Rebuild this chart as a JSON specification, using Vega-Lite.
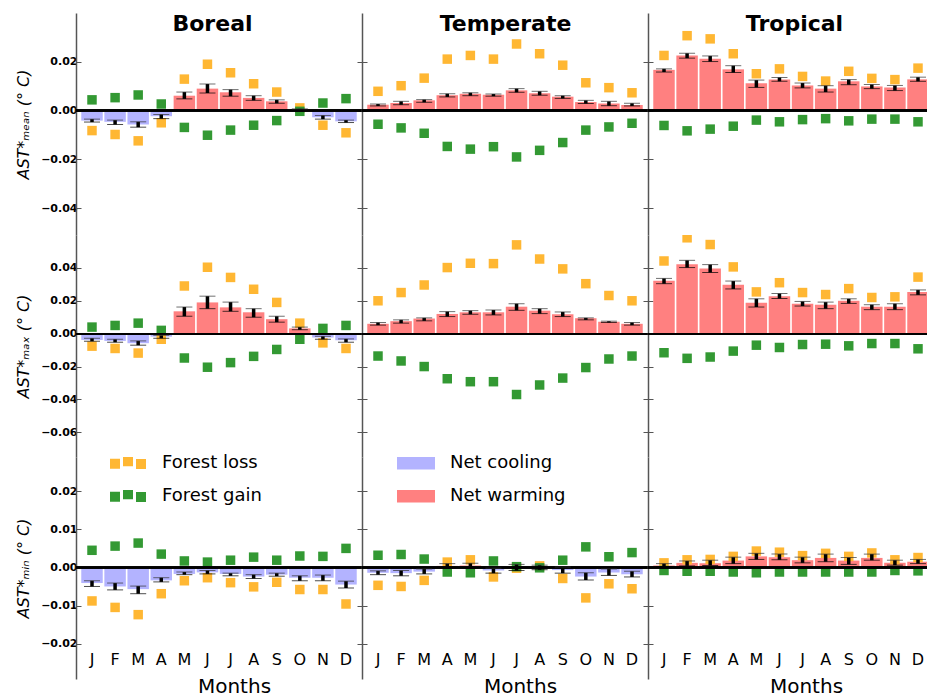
{
"$schema":"https://vega.github.io/schema/vega-lite/v6.json",
"padding":{"left":15,"top":12,"right":0,"bottom":0},
"config":{"view":{"stroke":null},"font":"DejaVu Sans",
 "axis":{"grid":false,"domainColor":"#555","domainWidth":1.5,"tickColor":"#555","tickSize":-5,"tickWidth":1,"labelColor":"black","titleColor":"black","labelFont":"DejaVu Sans"},
 "legend":{"labelFont":"DejaVu Sans","labelColor":"black"}},
"datasets":{"d":[
{"v":"mean","r":"Boreal","m":1,"net":-0.0041,"lo":-0.0047,"hi":-0.0035,"loss":-0.0082,"gain":0.0044,"e":"Net cooling"},
{"v":"mean","r":"Boreal","m":2,"net":-0.0046,"lo":-0.0057,"hi":-0.0039,"loss":-0.0098,"gain":0.0053,"e":"Net cooling"},
{"v":"mean","r":"Boreal","m":3,"net":-0.0057,"lo":-0.0068,"hi":-0.0046,"loss":-0.0124,"gain":0.0064,"e":"Net cooling"},
{"v":"mean","r":"Boreal","m":4,"net":-0.0023,"lo":-0.0033,"hi":-0.0016,"loss":-0.0050,"gain":0.0027,"e":"Net cooling"},
{"v":"mean","r":"Boreal","m":5,"net":0.0061,"lo":0.0048,"hi":0.0076,"loss":0.0129,"gain":-0.0069,"e":"Net warming"},
{"v":"mean","r":"Boreal","m":6,"net":0.0090,"lo":0.0072,"hi":0.0109,"loss":0.0190,"gain":-0.0101,"e":"Net warming"},
{"v":"mean","r":"Boreal","m":7,"net":0.0075,"lo":0.0059,"hi":0.0086,"loss":0.0155,"gain":-0.0080,"e":"Net warming"},
{"v":"mean","r":"Boreal","m":8,"net":0.0052,"lo":0.0042,"hi":0.0061,"loss":0.0110,"gain":-0.0060,"e":"Net warming"},
{"v":"mean","r":"Boreal","m":9,"net":0.0038,"lo":0.0030,"hi":0.0044,"loss":0.0076,"gain":-0.0041,"e":"Net warming"},
{"v":"mean","r":"Boreal","m":10,"net":0.0004,"lo":0.0000,"hi":0.0007,"loss":0.0011,"gain":-0.0003,"e":"Net warming"},
{"v":"mean","r":"Boreal","m":11,"net":-0.0027,"lo":-0.0035,"hi":-0.0020,"loss":-0.0060,"gain":0.0031,"e":"Net cooling"},
{"v":"mean","r":"Boreal","m":12,"net":-0.0044,"lo":-0.0049,"hi":-0.0039,"loss":-0.0091,"gain":0.0049,"e":"Net cooling"},
{"v":"mean","r":"Temperate","m":1,"net":0.0024,"lo":0.0019,"hi":0.0027,"loss":0.0079,"gain":-0.0056,"e":"Net warming"},
{"v":"mean","r":"Temperate","m":2,"net":0.0031,"lo":0.0024,"hi":0.0038,"loss":0.0102,"gain":-0.0071,"e":"Net warming"},
{"v":"mean","r":"Temperate","m":3,"net":0.0042,"lo":0.0034,"hi":0.0045,"loss":0.0133,"gain":-0.0093,"e":"Net warming"},
{"v":"mean","r":"Temperate","m":4,"net":0.0063,"lo":0.0056,"hi":0.0069,"loss":0.0211,"gain":-0.0147,"e":"Net warming"},
{"v":"mean","r":"Temperate","m":5,"net":0.0069,"lo":0.0061,"hi":0.0073,"loss":0.0226,"gain":-0.0158,"e":"Net warming"},
{"v":"mean","r":"Temperate","m":6,"net":0.0065,"lo":0.0059,"hi":0.0068,"loss":0.0211,"gain":-0.0148,"e":"Net warming"},
{"v":"mean","r":"Temperate","m":7,"net":0.0083,"lo":0.0075,"hi":0.0090,"loss":0.0273,"gain":-0.0190,"e":"Net warming"},
{"v":"mean","r":"Temperate","m":8,"net":0.0071,"lo":0.0063,"hi":0.0079,"loss":0.0233,"gain":-0.0163,"e":"Net warming"},
{"v":"mean","r":"Temperate","m":9,"net":0.0057,"lo":0.0050,"hi":0.0061,"loss":0.0186,"gain":-0.0131,"e":"Net warming"},
{"v":"mean","r":"Temperate","m":10,"net":0.0035,"lo":0.0029,"hi":0.0042,"loss":0.0114,"gain":-0.0080,"e":"Net warming"},
{"v":"mean","r":"Temperate","m":11,"net":0.0029,"lo":0.0020,"hi":0.0038,"loss":0.0094,"gain":-0.0067,"e":"Net warming"},
{"v":"mean","r":"Temperate","m":12,"net":0.0023,"lo":0.0019,"hi":0.0030,"loss":0.0073,"gain":-0.0052,"e":"Net warming"},
{"v":"mean","r":"Tropical","m":1,"net":0.0167,"lo":0.0158,"hi":0.0171,"loss":0.0226,"gain":-0.0061,"e":"Net warming"},
{"v":"mean","r":"Tropical","m":2,"net":0.0226,"lo":0.0215,"hi":0.0235,"loss":0.0307,"gain":-0.0083,"e":"Net warming"},
{"v":"mean","r":"Tropical","m":3,"net":0.0212,"lo":0.0201,"hi":0.0224,"loss":0.0294,"gain":-0.0076,"e":"Net warming"},
{"v":"mean","r":"Tropical","m":4,"net":0.0169,"lo":0.0156,"hi":0.0184,"loss":0.0233,"gain":-0.0064,"e":"Net warming"},
{"v":"mean","r":"Tropical","m":5,"net":0.0112,"lo":0.0095,"hi":0.0125,"loss":0.0151,"gain":-0.0039,"e":"Net warming"},
{"v":"mean","r":"Tropical","m":6,"net":0.0127,"lo":0.0120,"hi":0.0136,"loss":0.0171,"gain":-0.0046,"e":"Net warming"},
{"v":"mean","r":"Tropical","m":7,"net":0.0103,"lo":0.0093,"hi":0.0113,"loss":0.0140,"gain":-0.0037,"e":"Net warming"},
{"v":"mean","r":"Tropical","m":8,"net":0.0090,"lo":0.0076,"hi":0.0102,"loss":0.0121,"gain":-0.0033,"e":"Net warming"},
{"v":"mean","r":"Tropical","m":9,"net":0.0120,"lo":0.0106,"hi":0.0127,"loss":0.0161,"gain":-0.0042,"e":"Net warming"},
{"v":"mean","r":"Tropical","m":10,"net":0.0099,"lo":0.0090,"hi":0.0107,"loss":0.0132,"gain":-0.0035,"e":"Net warming"},
{"v":"mean","r":"Tropical","m":11,"net":0.0095,"lo":0.0082,"hi":0.0103,"loss":0.0127,"gain":-0.0035,"e":"Net warming"},
{"v":"mean","r":"Tropical","m":12,"net":0.0128,"lo":0.0120,"hi":0.0137,"loss":0.0174,"gain":-0.0046,"e":"Net warming"},
{"v":"max","r":"Boreal","m":1,"net":-0.0038,"lo":-0.0046,"hi":-0.0028,"loss":-0.0076,"gain":0.0040,"e":"Net cooling"},
{"v":"max","r":"Boreal","m":2,"net":-0.0044,"lo":-0.0052,"hi":-0.0034,"loss":-0.0090,"gain":0.0050,"e":"Net cooling"},
{"v":"max","r":"Boreal","m":3,"net":-0.0058,"lo":-0.0070,"hi":-0.0044,"loss":-0.0118,"gain":0.0064,"e":"Net cooling"},
{"v":"max","r":"Boreal","m":4,"net":-0.0018,"lo":-0.0028,"hi":-0.0010,"loss":-0.0034,"gain":0.0020,"e":"Net cooling"},
{"v":"max","r":"Boreal","m":5,"net":0.0136,"lo":0.0106,"hi":0.0162,"loss":0.0290,"gain":-0.0148,"e":"Net warming"},
{"v":"max","r":"Boreal","m":6,"net":0.0190,"lo":0.0152,"hi":0.0228,"loss":0.0404,"gain":-0.0204,"e":"Net warming"},
{"v":"max","r":"Boreal","m":7,"net":0.0160,"lo":0.0136,"hi":0.0192,"loss":0.0342,"gain":-0.0176,"e":"Net warming"},
{"v":"max","r":"Boreal","m":8,"net":0.0130,"lo":0.0100,"hi":0.0152,"loss":0.0270,"gain":-0.0138,"e":"Net warming"},
{"v":"max","r":"Boreal","m":9,"net":0.0088,"lo":0.0070,"hi":0.0106,"loss":0.0190,"gain":-0.0096,"e":"Net warming"},
{"v":"max","r":"Boreal","m":10,"net":0.0032,"lo":0.0024,"hi":0.0040,"loss":0.0064,"gain":-0.0034,"e":"Net warming"},
{"v":"max","r":"Boreal","m":11,"net":-0.0024,"lo":-0.0034,"hi":-0.0016,"loss":-0.0056,"gain":0.0032,"e":"Net cooling"},
{"v":"max","r":"Boreal","m":12,"net":-0.0040,"lo":-0.0052,"hi":-0.0032,"loss":-0.0090,"gain":0.0050,"e":"Net cooling"},
{"v":"max","r":"Temperate","m":1,"net":0.0060,"lo":0.0052,"hi":0.0068,"loss":0.0200,"gain":-0.0136,"e":"Net warming"},
{"v":"max","r":"Temperate","m":2,"net":0.0076,"lo":0.0064,"hi":0.0084,"loss":0.0250,"gain":-0.0166,"e":"Net warming"},
{"v":"max","r":"Temperate","m":3,"net":0.0092,"lo":0.0078,"hi":0.0096,"loss":0.0296,"gain":-0.0200,"e":"Net warming"},
{"v":"max","r":"Temperate","m":4,"net":0.0120,"lo":0.0104,"hi":0.0134,"loss":0.0402,"gain":-0.0274,"e":"Net warming"},
{"v":"max","r":"Temperate","m":5,"net":0.0130,"lo":0.0118,"hi":0.0140,"loss":0.0428,"gain":-0.0292,"e":"Net warming"},
{"v":"max","r":"Temperate","m":6,"net":0.0130,"lo":0.0114,"hi":0.0144,"loss":0.0426,"gain":-0.0292,"e":"Net warming"},
{"v":"max","r":"Temperate","m":7,"net":0.0164,"lo":0.0142,"hi":0.0182,"loss":0.0540,"gain":-0.0370,"e":"Net warming"},
{"v":"max","r":"Temperate","m":8,"net":0.0140,"lo":0.0122,"hi":0.0152,"loss":0.0454,"gain":-0.0312,"e":"Net warming"},
{"v":"max","r":"Temperate","m":9,"net":0.0118,"lo":0.0104,"hi":0.0132,"loss":0.0394,"gain":-0.0270,"e":"Net warming"},
{"v":"max","r":"Temperate","m":10,"net":0.0094,"lo":0.0084,"hi":0.0096,"loss":0.0304,"gain":-0.0206,"e":"Net warming"},
{"v":"max","r":"Temperate","m":11,"net":0.0072,"lo":0.0068,"hi":0.0076,"loss":0.0232,"gain":-0.0154,"e":"Net warming"},
{"v":"max","r":"Temperate","m":12,"net":0.0060,"lo":0.0052,"hi":0.0068,"loss":0.0200,"gain":-0.0136,"e":"Net warming"},
{"v":"max","r":"Tropical","m":1,"net":0.0322,"lo":0.0304,"hi":0.0336,"loss":0.0442,"gain":-0.0116,"e":"Net warming"},
{"v":"max","r":"Tropical","m":2,"net":0.0422,"lo":0.0402,"hi":0.0446,"loss":0.0583,"gain":-0.0150,"e":"Net warming"},
{"v":"max","r":"Tropical","m":3,"net":0.0396,"lo":0.0372,"hi":0.0420,"loss":0.0542,"gain":-0.0142,"e":"Net warming"},
{"v":"max","r":"Tropical","m":4,"net":0.0298,"lo":0.0272,"hi":0.0320,"loss":0.0406,"gain":-0.0106,"e":"Net warming"},
{"v":"max","r":"Tropical","m":5,"net":0.0188,"lo":0.0162,"hi":0.0212,"loss":0.0254,"gain":-0.0070,"e":"Net warming"},
{"v":"max","r":"Tropical","m":6,"net":0.0228,"lo":0.0214,"hi":0.0244,"loss":0.0310,"gain":-0.0084,"e":"Net warming"},
{"v":"max","r":"Tropical","m":7,"net":0.0182,"lo":0.0168,"hi":0.0196,"loss":0.0250,"gain":-0.0066,"e":"Net warming"},
{"v":"max","r":"Tropical","m":8,"net":0.0176,"lo":0.0152,"hi":0.0192,"loss":0.0238,"gain":-0.0064,"e":"Net warming"},
{"v":"max","r":"Tropical","m":9,"net":0.0200,"lo":0.0184,"hi":0.0212,"loss":0.0274,"gain":-0.0074,"e":"Net warming"},
{"v":"max","r":"Tropical","m":10,"net":0.0164,"lo":0.0146,"hi":0.0176,"loss":0.0220,"gain":-0.0060,"e":"Net warming"},
{"v":"max","r":"Tropical","m":11,"net":0.0164,"lo":0.0146,"hi":0.0182,"loss":0.0224,"gain":-0.0060,"e":"Net warming"},
{"v":"max","r":"Tropical","m":12,"net":0.0254,"lo":0.0236,"hi":0.0266,"loss":0.0344,"gain":-0.0092,"e":"Net warming"},
{"v":"min","r":"Boreal","m":1,"net":-0.0041,"lo":-0.0050,"hi":-0.0035,"loss":-0.0088,"gain":0.0045,"e":"Net cooling"},
{"v":"min","r":"Boreal","m":2,"net":-0.0050,"lo":-0.0059,"hi":-0.0041,"loss":-0.0105,"gain":0.0056,"e":"Net cooling"},
{"v":"min","r":"Boreal","m":3,"net":-0.0057,"lo":-0.0069,"hi":-0.0049,"loss":-0.0124,"gain":0.0064,"e":"Net cooling"},
{"v":"min","r":"Boreal","m":4,"net":-0.0034,"lo":-0.0038,"hi":-0.0027,"loss":-0.0069,"gain":0.0035,"e":"Net cooling"},
{"v":"min","r":"Boreal","m":5,"net":-0.0017,"lo":-0.0019,"hi":-0.0012,"loss":-0.0035,"gain":0.0017,"e":"Net cooling"},
{"v":"min","r":"Boreal","m":6,"net":-0.0013,"lo":-0.0017,"hi":-0.0008,"loss":-0.0027,"gain":0.0014,"e":"Net cooling"},
{"v":"min","r":"Boreal","m":7,"net":-0.0017,"lo":-0.0022,"hi":-0.0015,"loss":-0.0040,"gain":0.0019,"e":"Net cooling"},
{"v":"min","r":"Boreal","m":8,"net":-0.0024,"lo":-0.0029,"hi":-0.0019,"loss":-0.0051,"gain":0.0027,"e":"Net cooling"},
{"v":"min","r":"Boreal","m":9,"net":-0.0019,"lo":-0.0023,"hi":-0.0015,"loss":-0.0039,"gain":0.0019,"e":"Net cooling"},
{"v":"min","r":"Boreal","m":10,"net":-0.0027,"lo":-0.0035,"hi":-0.0022,"loss":-0.0058,"gain":0.0030,"e":"Net cooling"},
{"v":"min","r":"Boreal","m":11,"net":-0.0027,"lo":-0.0035,"hi":-0.0020,"loss":-0.0058,"gain":0.0029,"e":"Net cooling"},
{"v":"min","r":"Boreal","m":12,"net":-0.0045,"lo":-0.0054,"hi":-0.0036,"loss":-0.0096,"gain":0.0050,"e":"Net cooling"},
{"v":"min","r":"Temperate","m":1,"net":-0.0014,"lo":-0.0019,"hi":-0.0009,"loss":-0.0047,"gain":0.0032,"e":"Net cooling"},
{"v":"min","r":"Temperate","m":2,"net":-0.0015,"lo":-0.0022,"hi":-0.0008,"loss":-0.0050,"gain":0.0034,"e":"Net cooling"},
{"v":"min","r":"Temperate","m":3,"net":-0.0011,"lo":-0.0017,"hi":-0.0004,"loss":-0.0034,"gain":0.0022,"e":"Net cooling"},
{"v":"min","r":"Temperate","m":4,"net":0.0004,"lo":-0.0001,"hi":0.0010,"loss":0.0014,"gain":-0.0012,"e":"Net warming"},
{"v":"min","r":"Temperate","m":5,"net":0.0005,"lo":-0.0002,"hi":0.0011,"loss":0.0020,"gain":-0.0014,"e":"Net warming"},
{"v":"min","r":"Temperate","m":6,"net":-0.0008,"lo":-0.0015,"hi":-0.0002,"loss":-0.0025,"gain":0.0017,"e":"Net cooling"},
{"v":"min","r":"Temperate","m":7,"net":0.0001,"lo":-0.0008,"hi":0.0008,"loss":-0.0002,"gain":0.0002,"e":"Net warming"},
{"v":"min","r":"Temperate","m":8,"net":0.0001,"lo":-0.0006,"hi":0.0006,"loss":0.0004,"gain":-0.0001,"e":"Net warming"},
{"v":"min","r":"Temperate","m":9,"net":-0.0007,"lo":-0.0015,"hi":0.0001,"loss":-0.0029,"gain":0.0019,"e":"Net cooling"},
{"v":"min","r":"Temperate","m":10,"net":-0.0024,"lo":-0.0033,"hi":-0.0014,"loss":-0.0080,"gain":0.0054,"e":"Net cooling"},
{"v":"min","r":"Temperate","m":11,"net":-0.0013,"lo":-0.0021,"hi":-0.0004,"loss":-0.0043,"gain":0.0028,"e":"Net cooling"},
{"v":"min","r":"Temperate","m":12,"net":-0.0018,"lo":-0.0025,"hi":-0.0010,"loss":-0.0056,"gain":0.0039,"e":"Net cooling"},
{"v":"min","r":"Tropical","m":1,"net":0.0005,"lo":0.0002,"hi":0.0010,"loss":0.0012,"gain":-0.0008,"e":"Net warming"},
{"v":"min","r":"Tropical","m":2,"net":0.0012,"lo":0.0004,"hi":0.0017,"loss":0.0020,"gain":-0.0010,"e":"Net warming"},
{"v":"min","r":"Tropical","m":3,"net":0.0011,"lo":0.0005,"hi":0.0019,"loss":0.0021,"gain":-0.0010,"e":"Net warming"},
{"v":"min","r":"Tropical","m":4,"net":0.0018,"lo":0.0010,"hi":0.0027,"loss":0.0029,"gain":-0.0012,"e":"Net warming"},
{"v":"min","r":"Tropical","m":5,"net":0.0029,"lo":0.0021,"hi":0.0037,"loss":0.0043,"gain":-0.0014,"e":"Net warming"},
{"v":"min","r":"Tropical","m":6,"net":0.0027,"lo":0.0020,"hi":0.0035,"loss":0.0040,"gain":-0.0012,"e":"Net warming"},
{"v":"min","r":"Tropical","m":7,"net":0.0019,"lo":0.0012,"hi":0.0027,"loss":0.0031,"gain":-0.0012,"e":"Net warming"},
{"v":"min","r":"Tropical","m":8,"net":0.0025,"lo":0.0015,"hi":0.0035,"loss":0.0037,"gain":-0.0012,"e":"Net warming"},
{"v":"min","r":"Tropical","m":9,"net":0.0018,"lo":0.0008,"hi":0.0026,"loss":0.0029,"gain":-0.0012,"e":"Net warming"},
{"v":"min","r":"Tropical","m":10,"net":0.0025,"lo":0.0019,"hi":0.0035,"loss":0.0038,"gain":-0.0012,"e":"Net warming"},
{"v":"min","r":"Tropical","m":11,"net":0.0012,"lo":0.0006,"hi":0.0019,"loss":0.0020,"gain":-0.0008,"e":"Net warming"},
{"v":"min","r":"Tropical","m":12,"net":0.0015,"lo":0.0010,"hi":0.0021,"loss":0.0026,"gain":-0.0009,"e":"Net warming"}
]},
"data":{"name":"d"},
"spacing":0,"bounds":"full",
"resolve":{"legend":{"color":"independent","fill":"independent"}},
"vconcat":[
{"hconcat":[
 {"width":286,"height":222,
  "transform":[{"filter":"datum.v=='mean' && datum.r=='Boreal'"}],
  "resolve":{"axis":{"x":"independent","y":"independent"}},
  "layer":[
   {"mark":{"type":"bar","clip":true},"encoding":{
     "x":{"field":"m","type":"ordinal","scale":{"paddingInner":0.07,"paddingOuter":0.228},"axis":{"orient":"top","domain":false,"ticks":false,"labels":false,"title":"Boreal","titleFont":"DejaVu Sans","titleFontSize":22,"titleFontWeight":"bold","titleBaseline":"alphabetic","titleX":136,"titleY":17}},
     "y":{"field":"net","type":"quantitative","scale":{"domain":[-0.051,0.04],"nice":false},"axis":{"orient":"left","values":[-0.04,-0.02,0,0.02],"format":".2f","labelFontSize":11,"labelFontWeight":"bold","labelPadding":4,"title":"AST*ₘₑₐₙ    (° C)","titleFont":"DejaVu Sans","titleFontStyle":"italic","titleFontWeight":"normal","titleFontSize":16,"titlePadding":9}},
     "fill":{"field":"e","type":"nominal","scale":{"domain":["Net cooling","Net warming"],"range":["#B3B3FF","#FF8080"]},"legend":null}}},
   {"transform":[{"fold":["loss","gain"],"as":["type","val"]}],"mark":{"type":"point","shape":"square","filled":true,"size":90,"opacity":1,"clip":true},"encoding":{
     "x":{"field":"m","type":"ordinal","axis":null},"y":{"field":"val","type":"quantitative","axis":null},
     "color":{"field":"type","type":"nominal","scale":{"domain":["loss","gain"],"range":["#FFB733","#339933"]},"legend":null}}},
   {"mark":{"type":"rule","color":"black","strokeWidth":1.5},"encoding":{"y":{"datum":0,"type":"quantitative","axis":{"orient":"right","values":[-0.04,-0.02,0,0.02],"labels":false,"domain":false,"title":null}}}},
   {"mark":{"type":"rule","color":"black","strokeWidth":3.5,"clip":true},"encoding":{"x":{"field":"m","type":"ordinal","axis":null},"y":{"field":"lo","type":"quantitative","axis":null},"y2":{"field":"hi"}}},
   {"mark":{"type":"tick","color":"black","size":16,"thickness":1,"clip":true},"encoding":{"x":{"field":"m","type":"ordinal","axis":null},"y":{"field":"lo","type":"quantitative","axis":null}}},
   {"mark":{"type":"tick","color":"#333","size":16,"thickness":1,"clip":true},"encoding":{"x":{"field":"m","type":"ordinal","axis":null},"y":{"field":"hi","type":"quantitative","axis":null}}}
  ]},
 {"width":286,"height":222,
  "transform":[{"filter":"datum.v=='mean' && datum.r=='Temperate'"}],
  "resolve":{"axis":{"x":"independent","y":"independent"}},
  "layer":[
   {"mark":{"type":"bar","clip":true},"encoding":{
     "x":{"field":"m","type":"ordinal","scale":{"paddingInner":0.07,"paddingOuter":0.228},"axis":{"orient":"top","domain":false,"ticks":false,"labels":false,"title":"Temperate","titleFont":"DejaVu Sans","titleFontSize":22,"titleFontWeight":"bold","titleBaseline":"alphabetic","titleX":143,"titleY":17}},
     "y":{"field":"net","type":"quantitative","scale":{"domain":[-0.051,0.04],"nice":false},"axis":{"orient":"left","values":[-0.04,-0.02,0,0.02],"labels":false,"title":null}},
     "fill":{"field":"e","type":"nominal","scale":{"domain":["Net cooling","Net warming"],"range":["#B3B3FF","#FF8080"]},"legend":null}}},
   {"transform":[{"fold":["loss","gain"],"as":["type","val"]}],"mark":{"type":"point","shape":"square","filled":true,"size":90,"opacity":1,"clip":true},"encoding":{
     "x":{"field":"m","type":"ordinal","axis":null},"y":{"field":"val","type":"quantitative","axis":null},
     "color":{"field":"type","type":"nominal","scale":{"domain":["loss","gain"],"range":["#FFB733","#339933"]},"legend":null}}},
   {"mark":{"type":"rule","color":"black","strokeWidth":1.5},"encoding":{"y":{"datum":0,"type":"quantitative","axis":{"orient":"right","values":[-0.04,-0.02,0,0.02],"labels":false,"domain":false,"title":null}}}},
   {"mark":{"type":"rule","color":"black","strokeWidth":3.5,"clip":true},"encoding":{"x":{"field":"m","type":"ordinal","axis":null},"y":{"field":"lo","type":"quantitative","axis":null},"y2":{"field":"hi"}}},
   {"mark":{"type":"tick","color":"black","size":16,"thickness":1,"clip":true},"encoding":{"x":{"field":"m","type":"ordinal","axis":null},"y":{"field":"lo","type":"quantitative","axis":null}}},
   {"mark":{"type":"tick","color":"#333","size":16,"thickness":1,"clip":true},"encoding":{"x":{"field":"m","type":"ordinal","axis":null},"y":{"field":"hi","type":"quantitative","axis":null}}}
  ]},
 {"width":279,"height":222,
  "transform":[{"filter":"datum.v=='mean' && datum.r=='Tropical'"}],
  "resolve":{"axis":{"x":"independent","y":"independent"}},
  "layer":[
   {"mark":{"type":"bar","clip":true},"encoding":{
     "x":{"field":"m","type":"ordinal","scale":{"paddingInner":0.07,"paddingOuter":0.228,"range":[0,286]},"axis":{"orient":"top","domain":false,"ticks":false,"labels":false,"title":"Tropical","titleFont":"DejaVu Sans","titleFontSize":22,"titleFontWeight":"bold","titleBaseline":"alphabetic","titleX":146,"titleY":17}},
     "y":{"field":"net","type":"quantitative","scale":{"domain":[-0.051,0.04],"nice":false},"axis":{"orient":"left","values":[-0.04,-0.02,0,0.02],"labels":false,"title":null}},
     "fill":{"field":"e","type":"nominal","scale":{"domain":["Net cooling","Net warming"],"range":["#B3B3FF","#FF8080"]},"legend":null}}},
   {"transform":[{"fold":["loss","gain"],"as":["type","val"]}],"mark":{"type":"point","shape":"square","filled":true,"size":90,"opacity":1,"clip":true},"encoding":{
     "x":{"field":"m","type":"ordinal","axis":null},"y":{"field":"val","type":"quantitative","axis":null},
     "color":{"field":"type","type":"nominal","scale":{"domain":["loss","gain"],"range":["#FFB733","#339933"]},"legend":null}}},
   {"mark":{"type":"rule","color":"black","strokeWidth":1.5},"encoding":{"y":{"datum":0,"type":"quantitative","axis":null}}},
   {"mark":{"type":"rule","color":"black","strokeWidth":3.5,"clip":true},"encoding":{"x":{"field":"m","type":"ordinal","axis":null},"y":{"field":"lo","type":"quantitative","axis":null},"y2":{"field":"hi"}}},
   {"mark":{"type":"tick","color":"black","size":16,"thickness":1,"clip":true},"encoding":{"x":{"field":"m","type":"ordinal","axis":null},"y":{"field":"lo","type":"quantitative","axis":null}}},
   {"mark":{"type":"tick","color":"#333","size":16,"thickness":1,"clip":true},"encoding":{"x":{"field":"m","type":"ordinal","axis":null},"y":{"field":"hi","type":"quantitative","axis":null}}}
  ]}
],"spacing":0,"bounds":"flush","resolve":{"legend":{"color":"independent","fill":"independent"}}},
{"hconcat":[
 {"width":286,"height":222,
  "transform":[{"filter":"datum.v=='max' && datum.r=='Boreal'"}],
  "resolve":{"axis":{"x":"independent","y":"independent"}},
  "layer":[
   {"mark":{"type":"bar","clip":true},"encoding":{
     "x":{"field":"m","type":"ordinal","scale":{"paddingInner":0.07,"paddingOuter":0.228},"axis":null},
     "y":{"field":"net","type":"quantitative","scale":{"domain":[-0.075,0.06],"nice":false},"axis":{"orient":"left","values":[-0.06,-0.04,-0.02,0,0.02,0.04],"format":".2f","labelFontSize":11,"labelFontWeight":"bold","labelPadding":4,"title":"AST*ₘₐₓ    (° C)","titleFont":"DejaVu Sans","titleFontStyle":"italic","titleFontWeight":"normal","titleFontSize":16,"titlePadding":9}},
     "fill":{"field":"e","type":"nominal","scale":{"domain":["Net cooling","Net warming"],"range":["#B3B3FF","#FF8080"]},"legend":null}}},
   {"transform":[{"fold":["loss","gain"],"as":["type","val"]}],"mark":{"type":"point","shape":"square","filled":true,"size":90,"opacity":1,"clip":true},"encoding":{
     "x":{"field":"m","type":"ordinal","axis":null},"y":{"field":"val","type":"quantitative","axis":null},
     "color":{"field":"type","type":"nominal","scale":{"domain":["loss","gain"],"range":["#FFB733","#339933"]},"legend":null}}},
   {"mark":{"type":"rule","color":"black","strokeWidth":1.5},"encoding":{"y":{"datum":0,"type":"quantitative","axis":{"orient":"right","values":[-0.06,-0.04,-0.02,0,0.02,0.04],"labels":false,"domain":false,"title":null}}}},
   {"mark":{"type":"rule","color":"black","strokeWidth":3.5,"clip":true},"encoding":{"x":{"field":"m","type":"ordinal","axis":null},"y":{"field":"lo","type":"quantitative","axis":null},"y2":{"field":"hi"}}},
   {"mark":{"type":"tick","color":"black","size":16,"thickness":1,"clip":true},"encoding":{"x":{"field":"m","type":"ordinal","axis":null},"y":{"field":"lo","type":"quantitative","axis":null}}},
   {"mark":{"type":"tick","color":"#333","size":16,"thickness":1,"clip":true},"encoding":{"x":{"field":"m","type":"ordinal","axis":null},"y":{"field":"hi","type":"quantitative","axis":null}}}
  ]},
 {"width":286,"height":222,
  "transform":[{"filter":"datum.v=='max' && datum.r=='Temperate'"}],
  "resolve":{"axis":{"x":"independent","y":"independent"}},
  "layer":[
   {"mark":{"type":"bar","clip":true},"encoding":{
     "x":{"field":"m","type":"ordinal","scale":{"paddingInner":0.07,"paddingOuter":0.228},"axis":null},
     "y":{"field":"net","type":"quantitative","scale":{"domain":[-0.075,0.06],"nice":false},"axis":{"orient":"left","values":[-0.06,-0.04,-0.02,0,0.02,0.04],"labels":false,"title":null}},
     "fill":{"field":"e","type":"nominal","scale":{"domain":["Net cooling","Net warming"],"range":["#B3B3FF","#FF8080"]},"legend":null}}},
   {"transform":[{"fold":["loss","gain"],"as":["type","val"]}],"mark":{"type":"point","shape":"square","filled":true,"size":90,"opacity":1,"clip":true},"encoding":{
     "x":{"field":"m","type":"ordinal","axis":null},"y":{"field":"val","type":"quantitative","axis":null},
     "color":{"field":"type","type":"nominal","scale":{"domain":["loss","gain"],"range":["#FFB733","#339933"]},"legend":null}}},
   {"mark":{"type":"rule","color":"black","strokeWidth":1.5},"encoding":{"y":{"datum":0,"type":"quantitative","axis":{"orient":"right","values":[-0.06,-0.04,-0.02,0,0.02,0.04],"labels":false,"domain":false,"title":null}}}},
   {"mark":{"type":"rule","color":"black","strokeWidth":3.5,"clip":true},"encoding":{"x":{"field":"m","type":"ordinal","axis":null},"y":{"field":"lo","type":"quantitative","axis":null},"y2":{"field":"hi"}}},
   {"mark":{"type":"tick","color":"black","size":16,"thickness":1,"clip":true},"encoding":{"x":{"field":"m","type":"ordinal","axis":null},"y":{"field":"lo","type":"quantitative","axis":null}}},
   {"mark":{"type":"tick","color":"#333","size":16,"thickness":1,"clip":true},"encoding":{"x":{"field":"m","type":"ordinal","axis":null},"y":{"field":"hi","type":"quantitative","axis":null}}}
  ]},
 {"width":279,"height":222,
  "transform":[{"filter":"datum.v=='max' && datum.r=='Tropical'"}],
  "resolve":{"axis":{"x":"independent","y":"independent"}},
  "layer":[
   {"mark":{"type":"bar","clip":true},"encoding":{
     "x":{"field":"m","type":"ordinal","scale":{"paddingInner":0.07,"paddingOuter":0.228,"range":[0,286]},"axis":null},
     "y":{"field":"net","type":"quantitative","scale":{"domain":[-0.075,0.06],"nice":false},"axis":{"orient":"left","values":[-0.06,-0.04,-0.02,0,0.02,0.04],"labels":false,"title":null}},
     "fill":{"field":"e","type":"nominal","scale":{"domain":["Net cooling","Net warming"],"range":["#B3B3FF","#FF8080"]},"legend":null}}},
   {"transform":[{"fold":["loss","gain"],"as":["type","val"]}],"mark":{"type":"point","shape":"square","filled":true,"size":90,"opacity":1,"clip":true},"encoding":{
     "x":{"field":"m","type":"ordinal","axis":null},"y":{"field":"val","type":"quantitative","axis":null},
     "color":{"field":"type","type":"nominal","scale":{"domain":["loss","gain"],"range":["#FFB733","#339933"]},"legend":null}}},
   {"mark":{"type":"rule","color":"black","strokeWidth":1.5},"encoding":{"y":{"datum":0,"type":"quantitative","axis":null}}},
   {"mark":{"type":"rule","color":"black","strokeWidth":3.5,"clip":true},"encoding":{"x":{"field":"m","type":"ordinal","axis":null},"y":{"field":"lo","type":"quantitative","axis":null},"y2":{"field":"hi"}}},
   {"mark":{"type":"tick","color":"black","size":16,"thickness":1,"clip":true},"encoding":{"x":{"field":"m","type":"ordinal","axis":null},"y":{"field":"lo","type":"quantitative","axis":null}}},
   {"mark":{"type":"tick","color":"#333","size":16,"thickness":1,"clip":true},"encoding":{"x":{"field":"m","type":"ordinal","axis":null},"y":{"field":"hi","type":"quantitative","axis":null}}}
  ]}
],"spacing":0,"bounds":"flush","resolve":{"legend":{"color":"independent","fill":"independent"}}},
{"hconcat":[
 {"width":286,"height":222,
  "transform":[{"filter":"datum.v=='min' && datum.r=='Boreal'"}],
  "resolve":{"axis":{"x":"independent","y":"independent"}},
  "layer":[
   {"mark":{"type":"bar","clip":true},"encoding":{
     "x":{"field":"m","type":"ordinal","scale":{"paddingInner":0.07,"paddingOuter":0.228},"axis":{"orient":"bottom","offset":-28,"domain":false,"ticks":false,"labelPadding":0,"labelFontSize":16,"labelAngle":0,"labelExpr":"['J','F','M','A','M','J','J','A','S','O','N','D'][datum.value-1]","title":"Months","titleFont":"DejaVu Sans","titleFontSize":20,"titleFontWeight":"normal","titlePadding":9,"titleX":158}},
     "y":{"field":"net","type":"quantitative","scale":{"domain":[-0.0293,0.029],"nice":false},"axis":{"orient":"left","values":[-0.02,-0.01,0,0.01,0.02],"format":".2f","labelFontSize":11,"labelFontWeight":"bold","labelPadding":4,"title":"AST*ₘᵢₙ    (° C)","titleFont":"DejaVu Sans","titleFontStyle":"italic","titleFontWeight":"normal","titleFontSize":16,"titlePadding":9}},
     "fill":{"field":"e","type":"nominal","scale":{"domain":["Net cooling","Net warming"],"range":["#B3B3FF","#FF8080"]},"legend":null}}},
   {"transform":[{"fold":["loss","gain"],"as":["type","val"]}],"mark":{"type":"point","shape":"square","filled":true,"size":90,"opacity":1,"clip":true},"encoding":{
     "x":{"field":"m","type":"ordinal","axis":null},"y":{"field":"val","type":"quantitative","axis":null},
     "color":{"field":"type","type":"nominal","scale":{"domain":["loss","gain"],"range":["#FFB733","#339933"]},"legend":{"orient":"none","legendX":34,"legendY":0,"title":null,"symbolType":"M-1,-0.23H-0.444V0.326H-1Z M-0.278,-0.378H0.278V0.178H-0.278Z M0.444,-0.218H1V0.338H0.444Z","symbolSize":1296,"symbolStrokeWidth":0,"symbolOpacity":1,"clipHeight":12,"labelFontSize":18,"labelOffset":16,"labelExpr":"datum.label=='loss'?'Forest loss':'Forest gain'","padding":0,"rowPadding":15}}}},
   {"mark":{"type":"rule","color":"black","strokeWidth":1.5},"encoding":{"y":{"datum":0,"type":"quantitative","axis":{"orient":"right","values":[-0.02,-0.01,0,0.01,0.02],"labels":false,"domain":false,"title":null}}}},
   {"mark":{"type":"rule","color":"black","strokeWidth":3.5,"clip":true},"encoding":{"x":{"field":"m","type":"ordinal","axis":null},"y":{"field":"lo","type":"quantitative","axis":null},"y2":{"field":"hi"}}},
   {"mark":{"type":"tick","color":"black","size":16,"thickness":1,"clip":true},"encoding":{"x":{"field":"m","type":"ordinal","axis":null},"y":{"field":"lo","type":"quantitative","axis":null}}},
   {"mark":{"type":"tick","color":"#333","size":16,"thickness":1,"clip":true},"encoding":{"x":{"field":"m","type":"ordinal","axis":null},"y":{"field":"hi","type":"quantitative","axis":null}}}
  ]},
 {"width":286,"height":222,
  "transform":[{"filter":"datum.v=='min' && datum.r=='Temperate'"}],
  "resolve":{"axis":{"x":"independent","y":"independent"}},
  "layer":[
   {"mark":{"type":"bar","clip":true},"encoding":{
     "x":{"field":"m","type":"ordinal","scale":{"paddingInner":0.07,"paddingOuter":0.228},"axis":{"orient":"bottom","offset":-28,"domain":false,"ticks":false,"labelPadding":0,"labelFontSize":16,"labelAngle":0,"labelExpr":"['J','F','M','A','M','J','J','A','S','O','N','D'][datum.value-1]","title":"Months","titleFont":"DejaVu Sans","titleFontSize":20,"titleFontWeight":"normal","titlePadding":9,"titleX":158}},
     "y":{"field":"net","type":"quantitative","scale":{"domain":[-0.0293,0.029],"nice":false},"axis":{"orient":"left","values":[-0.02,-0.01,0,0.01,0.02],"labels":false,"title":null}},
     "fill":{"field":"e","type":"nominal","scale":{"domain":["Net cooling","Net warming"],"range":["#B3B3FF","#FF8080"]},"legend":{"orient":"none","legendX":35,"legendY":0,"title":null,"symbolType":"M-1,-0.342H1V0.342H-1Z","symbolSize":1444,"symbolStrokeWidth":0,"symbolOpacity":1,"clipHeight":12,"labelFontSize":18,"labelOffset":15,"padding":0,"rowPadding":15}}}},
   {"transform":[{"fold":["loss","gain"],"as":["type","val"]}],"mark":{"type":"point","shape":"square","filled":true,"size":90,"opacity":1,"clip":true},"encoding":{
     "x":{"field":"m","type":"ordinal","axis":null},"y":{"field":"val","type":"quantitative","axis":null},
     "color":{"field":"type","type":"nominal","scale":{"domain":["loss","gain"],"range":["#FFB733","#339933"]},"legend":null}}},
   {"mark":{"type":"rule","color":"black","strokeWidth":1.5},"encoding":{"y":{"datum":0,"type":"quantitative","axis":{"orient":"right","values":[-0.02,-0.01,0,0.01,0.02],"labels":false,"domain":false,"title":null}}}},
   {"mark":{"type":"rule","color":"black","strokeWidth":3.5,"clip":true},"encoding":{"x":{"field":"m","type":"ordinal","axis":null},"y":{"field":"lo","type":"quantitative","axis":null},"y2":{"field":"hi"}}},
   {"mark":{"type":"tick","color":"black","size":16,"thickness":1,"clip":true},"encoding":{"x":{"field":"m","type":"ordinal","axis":null},"y":{"field":"lo","type":"quantitative","axis":null}}},
   {"mark":{"type":"tick","color":"#333","size":16,"thickness":1,"clip":true},"encoding":{"x":{"field":"m","type":"ordinal","axis":null},"y":{"field":"hi","type":"quantitative","axis":null}}}
  ]},
 {"width":279,"height":222,
  "transform":[{"filter":"datum.v=='min' && datum.r=='Tropical'"}],
  "resolve":{"axis":{"x":"independent","y":"independent"}},
  "layer":[
   {"mark":{"type":"bar","clip":true},"encoding":{
     "x":{"field":"m","type":"ordinal","scale":{"paddingInner":0.07,"paddingOuter":0.228,"range":[0,286]},"axis":{"orient":"bottom","offset":-28,"domain":false,"ticks":false,"labelPadding":0,"labelFontSize":16,"labelAngle":0,"labelExpr":"['J','F','M','A','M','J','J','A','S','O','N','D'][datum.value-1]","title":"Months","titleFont":"DejaVu Sans","titleFontSize":20,"titleFontWeight":"normal","titlePadding":9,"titleX":158}},
     "y":{"field":"net","type":"quantitative","scale":{"domain":[-0.0293,0.029],"nice":false},"axis":{"orient":"left","values":[-0.02,-0.01,0,0.01,0.02],"labels":false,"title":null}},
     "fill":{"field":"e","type":"nominal","scale":{"domain":["Net cooling","Net warming"],"range":["#B3B3FF","#FF8080"]},"legend":null}}},
   {"transform":[{"fold":["loss","gain"],"as":["type","val"]}],"mark":{"type":"point","shape":"square","filled":true,"size":90,"opacity":1,"clip":true},"encoding":{
     "x":{"field":"m","type":"ordinal","axis":null},"y":{"field":"val","type":"quantitative","axis":null},
     "color":{"field":"type","type":"nominal","scale":{"domain":["loss","gain"],"range":["#FFB733","#339933"]},"legend":null}}},
   {"mark":{"type":"rule","color":"black","strokeWidth":1.5},"encoding":{"y":{"datum":0,"type":"quantitative","axis":null}}},
   {"mark":{"type":"rule","color":"black","strokeWidth":3.5,"clip":true},"encoding":{"x":{"field":"m","type":"ordinal","axis":null},"y":{"field":"lo","type":"quantitative","axis":null},"y2":{"field":"hi"}}},
   {"mark":{"type":"tick","color":"black","size":16,"thickness":1,"clip":true},"encoding":{"x":{"field":"m","type":"ordinal","axis":null},"y":{"field":"lo","type":"quantitative","axis":null}}},
   {"mark":{"type":"tick","color":"#333","size":16,"thickness":1,"clip":true},"encoding":{"x":{"field":"m","type":"ordinal","axis":null},"y":{"field":"hi","type":"quantitative","axis":null}}}
  ]}
],"spacing":0,"bounds":"flush","resolve":{"legend":{"color":"independent","fill":"independent"}}}
]
}
